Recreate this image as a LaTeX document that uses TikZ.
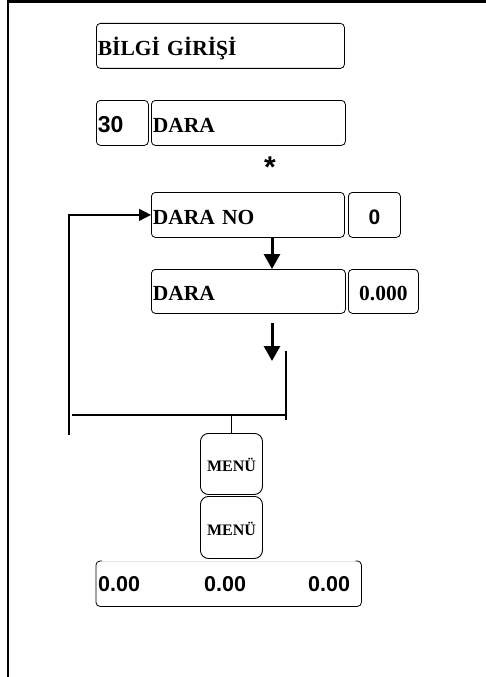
\documentclass[tikz,border=0pt]{standalone}
\usepackage{fontspec}
\setmainfont{Liberation Serif}
\newfontfamily\numfont{Liberation Sans}
\usetikzlibrary{arrows.meta}

\tikzset{
  lcd/.style={draw, line width=0.8pt, rounded corners=4pt, anchor=north west,
    minimum height=45pt, inner xsep=1.5pt, inner ysep=1pt, text width=#1,
    align=left, text height=18.5pt, text depth=0pt,
    font=\fontsize{21.5}{24}\selectfont\bfseries},
  lcdnum/.style={lcd=#1, align=center, font=\fontsize{21}{24}\selectfont\bfseries\numfont},
  key/.style={draw, line width=0.9pt, rounded corners=8pt, anchor=north west,
    minimum width=62pt, minimum height=61pt, inner sep=0pt,
    text height=16pt, text depth=0pt, font=\fontsize{16}{18}\selectfont\bfseries},
  total/.style={anchor=base west, inner sep=0pt,
    font=\fontsize{21.5}{24}\selectfont\bfseries\numfont},
  bigarrow/.style={line width=3pt, -{Triangle[length=15pt,width=16pt]}},
  link/.style={line width=1.2pt}
}

\begin{document}
\begin{tikzpicture}[x=1pt, y=-1pt]

	\useasboundingbox (0,0) rectangle (486,677);

	\def\xl{96}
	\def\xm{151}
	\def\xr{348}

	%frame
	\draw[line width=3pt] (8,1.5) -- (486,1.5);
	\draw[line width=2.5pt] (8,0) -- (8,677);

	%first level
	\node[lcd=245pt] (bilgi) at (\xl,23) {BİLGİ GİRİŞİ};

	%second level
	\node[lcdnum=49pt, align=left, font=\fontsize{23}{24}\selectfont\bfseries\numfont] (kod) at (\xl,100) {30};
	\node[lcd=191pt] (dara) at (\xm,100) {DARA};
	\node[font=\fontsize{30}{30}\selectfont\bfseries\numfont, inner sep=0pt] (star) at (270,167) {*};

	%third level
	\node[lcd=190pt] (darano) at (\xm,192) {DARA NO};
	\node[lcdnum=49pt] (daranoval) at (\xr,192) {0};

	%fourth level
	\node[lcd=191pt, minimum height=44pt] (dara2) at (\xm,269) {DARA};
	\node[lcd=67pt, minimum height=44pt, align=center] (daraval) at (\xr,269) {0.000};

	%keys
	\node[key] (menu1) at (200,433) {MENÜ};
	\node[key, minimum height=62pt] (menu2) at (200,496) {MENÜ};

	%totals
	\node[draw=none, anchor=north west, minimum width=265pt, minimum height=45pt, inner sep=0pt] (tot) at (\xl,561) {};
	\draw[line width=0.8pt, rounded corners=4pt] ([xshift=6pt]tot.north west) -- (tot.north west) -- (tot.south west)
		-- (tot.south east) -- (tot.north east) -- ([xshift=-6pt]tot.north east);
	\draw[line width=0.8pt, black!10] ([xshift=6pt]tot.north west) -- ([xshift=-6pt]tot.north east);
	\node[total] (tot1) at (98,591) {0.00};
	\node[total] (tot2) at (204,591) {0.00};
	\node[total] (tot3) at (308,591) {0.00};

	%connectors
	\coordinate (a1) at (272,0);
	\coordinate (a2top) at (272,323);
	\coordinate (a2end) at (272,361);
	\coordinate (fb) at (69,435);
	\coordinate (mtop) at (286,351);
	\coordinate (mbot) at (286,420);
	\coordinate (mleft) at (72,415);
	\coordinate (mmid) at (menu1.north |- mleft);

	\draw[bigarrow] (darano.south -| a1) -- (dara2.north -| a1);
	\draw[bigarrow] (a2top) -- (a2end);
	\draw[link, -{Triangle[length=12pt,width=12pt]}] (fb) |- (darano.west);
	\draw[link] (mtop) -- (mbot);
	\draw[link] (mleft) -- (mleft -| mtop);
	\draw[link] (mmid) -- (menu1.north);

\end{tikzpicture}
\end{document}
